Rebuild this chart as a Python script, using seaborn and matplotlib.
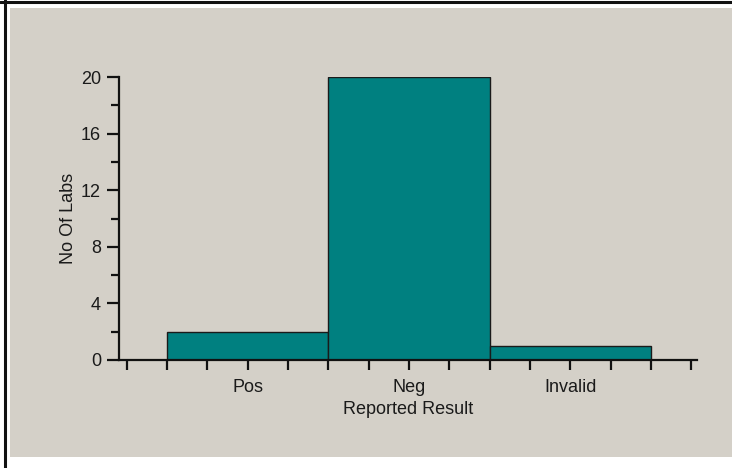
import numpy as np
import pandas as pd
import matplotlib
matplotlib.use('Agg')
import matplotlib.pyplot as plt
from matplotlib.patches import Rectangle
from matplotlib.lines import Line2D
from matplotlib.ticker import MultipleLocator
import seaborn as sns

# data
results = ['Pos', 'Neg', 'Invalid']
n_labs = [2, 20, 1]

BG = '#d4d0c8'
TEAL = '#008080'
TXT = '#1a1a1a'
FS = 13

sns.set_theme(style='white')
plt.rcParams['font.family'] = ['Liberation Sans', 'DejaVu Sans']

fig = plt.figure(figsize=(7.32, 4.68), dpi=100, facecolor='white')

# panel background + frame lines like the original screen grab
fig.patches.append(Rectangle((10 / 732, 11 / 468), 722 / 732, 449 / 468,
                             transform=fig.transFigure, facecolor=BG, edgecolor='none', zorder=-10))
fig.lines.append(Line2D([0, 1], [1 - 1.5 / 468] * 2, transform=fig.transFigure,
                        color='#111111', lw=2.2, zorder=-5))
fig.lines.append(Line2D([4.5 / 732] * 2, [0, 1], transform=fig.transFigure,
                        color='#111111', lw=2.2, zorder=-5))

ax = fig.add_axes([119 / 732, 108 / 468, 578 / 732, 283 / 468])
ax.patch.set_alpha(0)

df = pd.DataFrame({'result': results, 'labs': n_labs})
sns.barplot(data=df, x='result', y='labs', width=1.0, color=TEAL, saturation=1,
            edgecolor='#1a1a1a', linewidth=1.0, ax=ax)

ax.set_xlim(-0.798, 2.786)
ax.set_ylim(0, 20)

for s in ['top', 'right']:
    ax.spines[s].set_visible(False)
for s in ['left', 'bottom']:
    ax.spines[s].set_color('#111111')
    ax.spines[s].set_linewidth(1.6)

ax.yaxis.set_major_locator(MultipleLocator(4))
ax.yaxis.set_minor_locator(MultipleLocator(2))
ax.set_xticks([0, 1, 2])
ax.set_xticklabels(results)
ax.set_xticks(np.arange(-0.75, 2.76, 0.25), minor=True)

ax.tick_params(axis='y', which='major', direction='out', length=9, width=1.6,
               color='#111111', labelsize=FS, labelcolor=TXT, pad=4, left=True)
ax.tick_params(axis='y', which='minor', direction='out', length=6, width=1.6,
               color='#111111', left=True)
ax.tick_params(axis='x', which='both', direction='out', length=7, width=1.6,
               color='#111111', bottom=True)
ax.tick_params(axis='x', which='major', labelsize=FS, labelcolor=TXT, pad=7)

ax.set_xlabel('Reported Result', fontsize=FS, color=TXT, labelpad=3)
ax.set_ylabel('No Of Labs', fontsize=FS, color=TXT, labelpad=3)

fig.savefig('out.png', dpi=100, facecolor='white')
